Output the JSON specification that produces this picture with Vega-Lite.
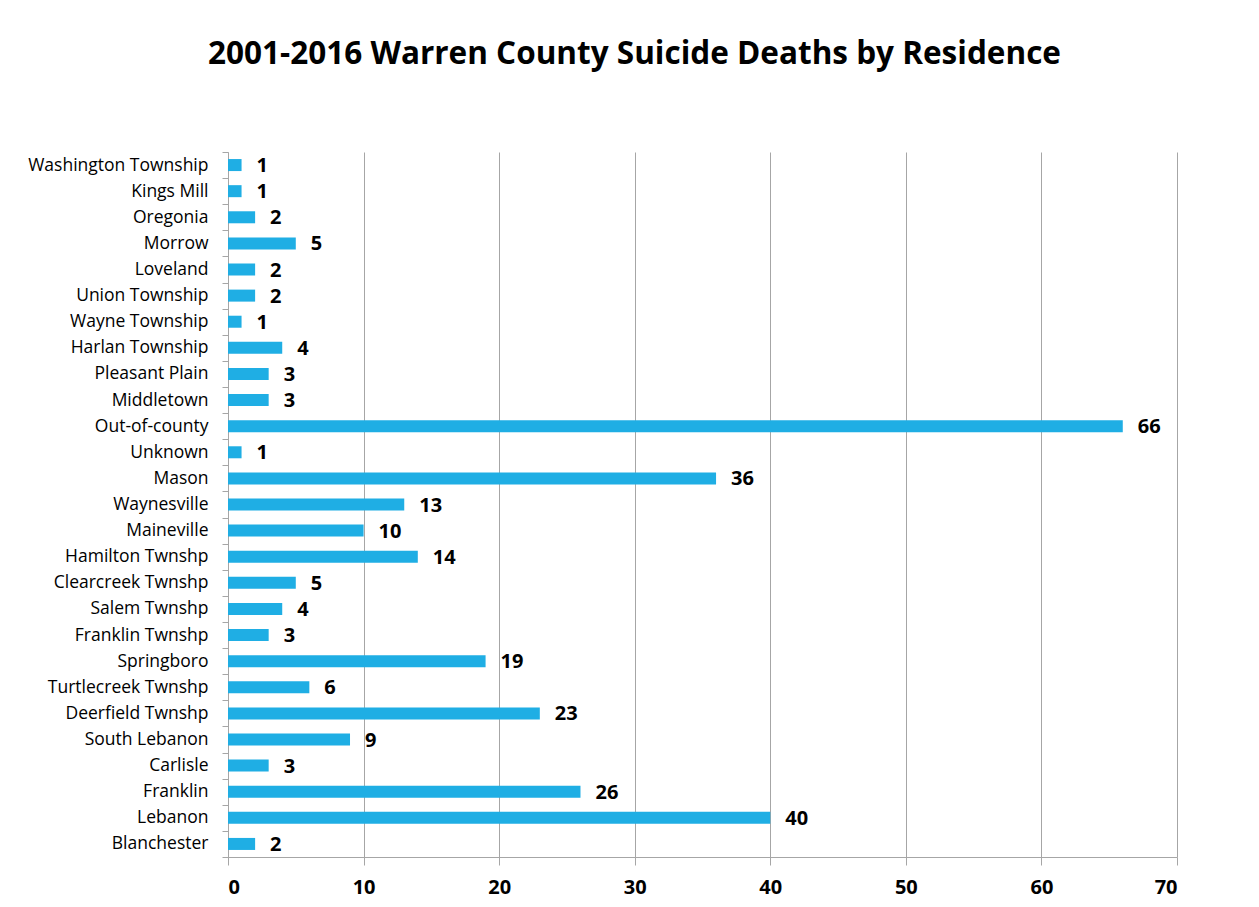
{
  "$schema": "https://vega.github.io/schema/vega-lite/v6.json",
  "autosize": {"type": "none"},
  "padding": {"left": 228, "top": 152, "right": 82, "bottom": 50},
  "width": 949,
  "height": 705,
  "background": "white",
  "title": {
    "text": "2001-2016 Warren County Suicide Deaths by Residence",
    "font": "Open Sans",
    "fontSize": 31.5,
    "fontWeight": "bold",
    "color": "#000000",
    "anchor": "middle",
    "frame": "group",
    "baseline": "alphabetic",
    "offset": 48,
    "dx": -68
  },
  "config": {
    "view": {"stroke": null},
    "font": "Open Sans"
  },
  "data": {
    "values": [
      {"place": "Washington Township", "deaths": 1},
      {"place": "Kings Mill", "deaths": 1},
      {"place": "Oregonia", "deaths": 2},
      {"place": "Morrow", "deaths": 5},
      {"place": "Loveland", "deaths": 2},
      {"place": "Union Township", "deaths": 2},
      {"place": "Wayne Township", "deaths": 1},
      {"place": "Harlan Township", "deaths": 4},
      {"place": "Pleasant Plain", "deaths": 3},
      {"place": "Middletown", "deaths": 3},
      {"place": "Out-of-county", "deaths": 66},
      {"place": "Unknown", "deaths": 1},
      {"place": "Mason", "deaths": 36},
      {"place": "Waynesville", "deaths": 13},
      {"place": "Maineville", "deaths": 10},
      {"place": "Hamilton Twnshp", "deaths": 14},
      {"place": "Clearcreek Twnshp", "deaths": 5},
      {"place": "Salem Twnshp", "deaths": 4},
      {"place": "Franklin Twnshp", "deaths": 3},
      {"place": "Springboro", "deaths": 19},
      {"place": "Turtlecreek Twnshp", "deaths": 6},
      {"place": "Deerfield Twnshp", "deaths": 23},
      {"place": "South Lebanon", "deaths": 9},
      {"place": "Carlisle", "deaths": 3},
      {"place": "Franklin", "deaths": 26},
      {"place": "Lebanon", "deaths": 40},
      {"place": "Blanchester", "deaths": 2}
    ]
  },
  "encoding": {
    "y": {
      "field": "place",
      "type": "nominal",
      "sort": null,
      "title": null,
      "scale": {"paddingInner": 0, "paddingOuter": 0},
      "axis": {
        "tickBand": "extent",
        "domainColor": "#A6A6A6",
        "tickColor": "#A6A6A6",
        "tickSize": 6,
        "labelFont": "Open Sans",
        "labelFontSize": 17.5,
        "labelColor": "#000000",
        "labelPadding": 14,
        "labelLimit": 300,
        "grid": false
      }
    },
    "x": {
      "field": "deaths",
      "type": "quantitative",
      "title": null,
      "scale": {"domain": [0, 70], "nice": false},
      "axis": {
        "values": [0, 10, 20, 30, 40, 50, 60, 70],
        "grid": true,
        "gridColor": "#A6A6A6",
        "gridWidth": 1,
        "domainColor": "#A6A6A6",
        "tickColor": "#A6A6A6",
        "tickSize": 8,
        "labelFont": "Open Sans",
        "labelFontSize": 20,
        "labelFontWeight": "bold",
        "labelColor": "#000000",
        "labelPadding": 12
      }
    }
  },
  "layer": [
    {"mark": {"type": "bar", "color": "#1FAEE4", "height": {"band": 0.46}}},
    {
      "mark": {
        "type": "text",
        "align": "left",
        "baseline": "middle",
        "dx": 15,
        "dy": 1,
        "font": "Open Sans",
        "fontSize": 20,
        "fontWeight": "bold",
        "color": "#000000"
      },
      "encoding": {"text": {"field": "deaths", "type": "quantitative"}}
    }
  ]
}
